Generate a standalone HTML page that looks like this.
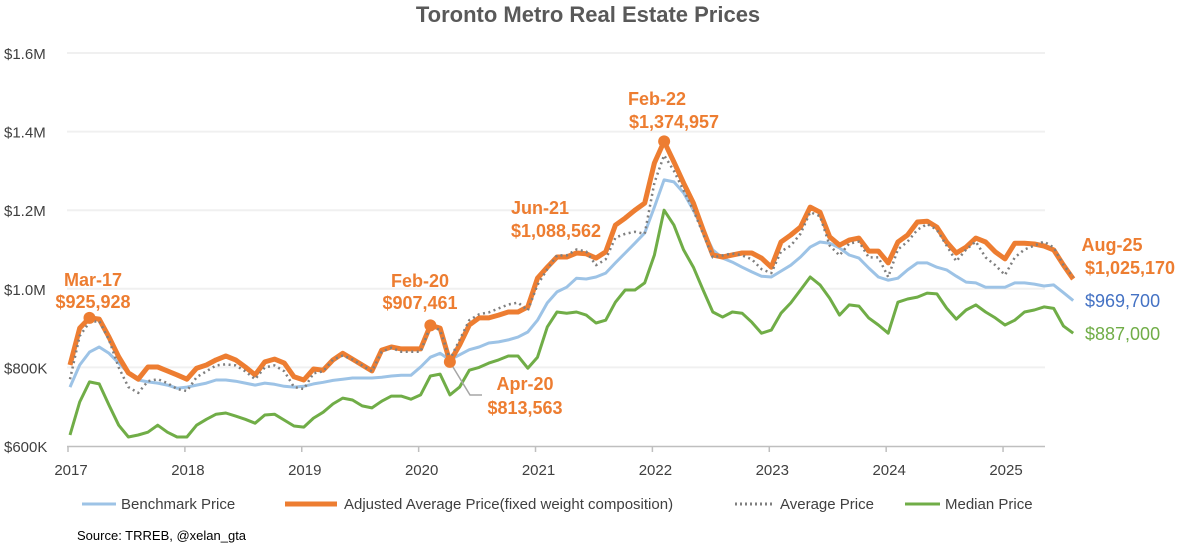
<!DOCTYPE html>
<html><head><meta charset="utf-8"><style>
body{margin:0;background:#fff;font-family:"Liberation Sans",sans-serif;}
svg{display:block}
</style></head><body>
<svg id="chart" width="1177" height="556" viewBox="0 0 1177 556" xmlns="http://www.w3.org/2000/svg">
<text x="588" y="22" text-anchor="middle" font-size="22" font-weight="bold" fill="#595959">Toronto Metro Real Estate Prices</text>
<g id="grid"></g><g id="axes"></g><g id="series"></g><g id="ann"></g>
<g font-size="15" fill="#404040">
<line x1="82" y1="504" x2="116" y2="504" stroke="#9DC3E6" stroke-width="3"/>
<text x="121" y="509">Benchmark Price</text>
<line x1="285" y1="504" x2="337" y2="504" stroke="#ED7D31" stroke-width="5"/>
<text x="344" y="509">Adjusted Average Price(fixed weight composition)</text>
<line x1="735" y1="504" x2="775" y2="504" stroke="#7f7f7f" stroke-width="3" stroke-dasharray="2 3"/>
<text x="780" y="509">Average Price</text>
<line x1="905" y1="504" x2="940" y2="504" stroke="#70AD47" stroke-width="3"/>
<text x="945" y="509">Median Price</text>
</g>
<text x="77" y="540" font-size="13" fill="#000">Source: TRREB, @xelan_gta</text>
</svg>
<script>
const years=["2017","2018","2019","2020","2021","2022","2023","2024","2025"];
const yTicks=[600,800,1000,1200,1400,1600];
const yTickLabels=["$600K","$800K","$1.0M","$1.2M","$1.4M","$1.6M"];
const adjusted=[806,900,926,923,877,827,786,770,801,801,791,781,
770,798,806,819,829,819,801,781,814,821,811,776,
768,796,793,819,836,821,806,791,844,852,847,847,
847,907,900,814,857,908,926,926,933,941,941,954,
1027,1055,1081,1081,1091,1089,1078,1094,1162,1180,1200,1218,
1320,1375,1323,1269,1218,1150,1086,1081,1086,1091,1091,1078,
1055,1119,1137,1157,1208,1195,1132,1111,1124,1129,1096,1096,
1066,1119,1137,1170,1172,1157,1119,1091,1106,1129,1119,1094,
1076,1116,1116,1114,1109,1099,1060,1025];
const average=[770,880,915,918,870,800,750,735,765,770,760,745,
740,775,790,805,808,805,790,770,800,805,790,750,
745,785,790,820,830,820,805,790,840,850,840,840,
840,905,895,820,870,920,935,940,950,960,965,945,
1010,1050,1085,1085,1100,1095,1060,1075,1130,1140,1145,1140,
1270,1340,1300,1250,1200,1140,1080,1085,1090,1085,1075,1050,
1040,1095,1110,1140,1195,1185,1110,1085,1115,1120,1080,1080,
1030,1100,1120,1150,1165,1150,1110,1070,1100,1120,1080,1060,
1035,1080,1100,1110,1120,1105,1060,1030];
const benchmark=[750,806,839,852,836,811,786,768,763,760,755,747,
750,755,760,768,768,765,760,755,760,757,752,750,
752,758,762,767,770,773,773,773,775,778,780,780,
801,826,836,819,832,845,852,862,865,870,877,890,
920,964,992,1004,1027,1025,1030,1040,1066,1091,1116,1142,
1208,1277,1272,1244,1200,1150,1099,1078,1068,1055,1043,1032,
1030,1045,1060,1081,1106,1119,1116,1104,1086,1078,1053,1030,
1022,1027,1048,1066,1066,1055,1048,1032,1017,1015,1004,1004,
1004,1015,1015,1012,1007,1010,990,970];
const median=[628,712,763,758,704,653,623,628,635,653,635,623,
623,653,668,681,684,676,668,658,679,681,666,651,
648,671,686,707,722,717,702,697,714,727,727,719,
730,778,783,730,750,793,800,811,819,829,829,798,
826,903,941,938,941,933,913,920,966,997,997,1015,
1086,1200,1162,1099,1055,997,941,928,941,938,915,887,
895,938,964,997,1030,1010,976,933,959,956,926,908,
887,966,974,979,989,987,951,923,946,959,941,926,
908,920,941,946,954,950,905,887];
const NS="http://www.w3.org/2000/svg";
const X0=70, MW=9.74;
function xs(i){return X0+i*MW;}
function ys(v){return 446-(v-600)*(393/1000);}
function mk(tag,attrs,parent){const e=document.createElementNS(NS,tag);for(const k in attrs)e.setAttribute(k,attrs[k]);parent.appendChild(e);return e;}
const grid=document.getElementById('grid'),axes=document.getElementById('axes'),ser=document.getElementById('series'),ann=document.getElementById('ann');
yTicks.forEach((t,i)=>{
 if(t>600){const l=mk('line',{x1:67,x2:1045,y1:ys(t),y2:ys(t),stroke:'#f0f0f0','stroke-width':2},grid);
 
 }
 const tx=mk('text',{x:4,y:ys(t)+6,'font-size':15,fill:'#404040'},axes);tx.textContent=yTickLabels[i];
 
 
});
const ax=mk('line',{x1:67,x2:1045,y1:446.5,y2:446.5,stroke:'#bfbfbf','stroke-width':1.5},axes);


years.forEach((y,i)=>{
 const x=xs(i*12)-2;
 const tk=mk('line',{x1:x,x2:x,y1:446,y2:452,stroke:'#bfbfbf','stroke-width':1.5},axes);
 
 
 const t=mk('text',{x:x+3,y:475,'text-anchor':'middle','font-size':15,fill:'#404040'},axes);t.textContent=y;
 
 
});
function line(data,color,w,dash,name){
 const p=mk('polyline',{points:data.map((v,i)=>xs(i).toFixed(1)+','+ys(v).toFixed(1)).join(' '),fill:'none',stroke:color,'stroke-width':w,'stroke-linejoin':'round'},ser);
 if(dash)p.setAttribute('stroke-dasharray',dash);
 
 
}
line(median,'#70AD47',3,null,'median-line');
line(benchmark,'#9DC3E6',3,null,'benchmark-line');
line(adjusted,'#ED7D31',5,null,'adjusted-line');
line(average,'#7f7f7f',2.5,'2 3.5','average-line');
const ld=mk('polyline',{points:xs(39)+','+ys(adjusted[39])+' 470,395 482,395',fill:'none',stroke:'#a6a6a6','stroke-width':1.5},ann);


[2,37,39,61].forEach(i=>{
 const c=mk('circle',{cx:xs(i),cy:ys(adjusted[i]),r:6,fill:'#ED7D31'},ann);
 
 
});
const labels=[["Mar-17",93,286],["$925,928",93,308],["Feb-20",420,287],["$907,461",420,309],["Jun-21",540,214],["$1,088,562",556,237],["Feb-22",657,105],["$1,374,957",674,128],["Apr-20",525,390],["$813,563",525,414],["Aug-25",1112,251],["$1,025,170",1130,274]];
labels.forEach(l=>{
 const t=mk('text',{x:l[1],y:l[2],'text-anchor':'middle','font-size':18,'font-weight':'bold',fill:'#ED7D31'},ann);t.textContent=l[0];
 
 
});
const b=mk('text',{x:1085,y:307,'font-size':18,fill:'#4472C4'},ann);b.textContent="$969,700";


const g=mk('text',{x:1085,y:340,'font-size':18,fill:'#70AD47'},ann);g.textContent="$887,000";


</script>
</body></html>
